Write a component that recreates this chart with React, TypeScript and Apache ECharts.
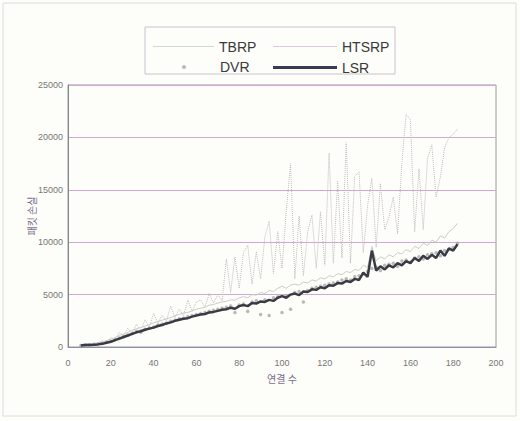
import React, { useEffect, useRef } from "react";
import * as echarts from "echarts";

const connections = [
  6, 8, 10, 12, 14, 16, 18, 20, 22, 24,
  26, 28, 30, 32, 34, 36, 38, 40, 42, 44,
  46, 48, 50, 52, 54, 56, 58, 60, 62, 64,
  66, 68, 70, 72, 74, 76, 78, 80, 82, 84,
  86, 88, 90, 92, 94, 96, 98, 100, 102, 104,
  106, 108, 110, 112, 114, 116, 118, 120, 122, 124,
  126, 128, 130, 132, 134, 136, 138, 140, 142, 144,
  146, 148, 150, 152, 154, 156, 158, 160, 162, 164,
  166, 168, 170, 172, 174, 176, 178, 180, 182,
];

const htsrp = [
  250, 300, 280, 350, 400, 600, 500, 900, 700, 1400,
  1000, 1800, 1300, 2200, 1600, 2600, 1900, 3200, 2300, 3000,
  2500, 3900, 2800, 3600, 3000, 4500, 3400, 4300, 4500, 3800,
  5100, 4200, 5000, 4400, 8400, 5200, 8600, 5600, 9000, 9700,
  6000, 9100, 6500, 10500, 12000, 7000, 11000, 7500, 13000, 17500,
  6500, 12500, 6800, 11000, 12600, 7500, 12900, 7800, 18500, 8000,
  15800, 8500, 19500, 8000, 16300, 16700, 9000, 13500, 16100, 9500,
  15600, 11200, 12400, 14300, 10800, 17500, 22200, 21700, 11000, 17000,
  11200, 18000, 19300, 14300, 16200, 19000, 20000, 20300, 20800,
];

const lsr = [
  150, 180, 200, 220, 250, 300, 400, 500, 650, 800,
  950, 1100, 1250, 1400, 1500, 1650, 1750, 1850, 2000, 2100,
  2250, 2350, 2500, 2600, 2700, 2750, 2900, 3000, 3100, 3150,
  3300, 3350, 3450, 3550, 3600, 3750, 3650, 3900, 4000, 3900,
  4200, 4150, 4350, 4300, 4500, 4400, 4700, 4850, 4700, 5000,
  5100, 4950, 5300, 5250, 5500, 5450, 5700, 5600, 5900, 5850,
  6100, 6050, 6300, 6200, 6500, 6400, 7100, 6700, 9200, 7300,
  7700, 7400, 7800, 7600, 8000, 7800, 8200, 8000, 8500, 8200,
  8700, 8400, 8800, 8500, 9200, 8700, 9400, 9200, 9800,
];

const tbrp = [
  200, 250, 300, 300, 350, 450, 600, 750, 900, 1100,
  1250, 1400, 1600, 1750, 1850, 2000, 2150, 2300, 2450, 2550,
  2700, 2800, 3000, 3100, 3250, 3300, 3450, 3600, 3700, 3800,
  4000, 4050, 4200, 4300, 4350, 4500, 4450, 4700, 4800, 4700,
  5000, 4950, 5200, 5100, 5400, 5300, 5600, 5800, 5600, 5900,
  6000, 5900, 6200, 6100, 6400, 6300, 6600, 6500, 6800, 6700,
  7000, 6900, 7200, 7100, 7400, 7300, 7800, 7600, 9600, 8200,
  8600, 8400, 8800, 8600, 9000, 8900, 9300, 9100, 9600, 9400,
  9900, 9700, 10200, 10000, 10600, 10400, 11000, 11300, 11800,
];

const dvr = [
  150, 200, 220, 250, 300, 350, 450, 550, 700, 850,
  1000, 1150, 1300, 1500, 1400, 1700, 1800, 1900, 2100, 2200,
  2300, 2450, 2550, 2700, 2750, 2900, 3000, 3100, 3200, 3300,
  3400, 3500, 3600, 3700, 3800, 3900, 3300, 4000, 4100, 3400,
  4300, 4400, 3100, 4500, 3000, 4700, 4800, 3300, 4900, 3600,
  5200, 5300, 4300, 5400, 5600, 5700, 5800, 5900, 6000, 6100,
  6200, 6400, 6500, 6400, 6700, 6800, 7000, 7200, 7500, 7600,
  7300, 7800, 7900, 8000, 7700, 8200, 8300, 8100, 8500, 8600,
  8400, 8800, 8900, 9000, 8700, 9200, 9300, 9500, 9900,
];

const pairs = (vals: number[]) => vals.map((v, i) => [connections[i], v]);

const FONT = "Liberation Sans, Arial, sans-serif";

export default function App() {
  const ref = useRef<HTMLDivElement>(null);
  useEffect(() => {
    if (!ref.current) return;
    const chart = echarts.init(ref.current, null, { renderer: "svg" });
    const legendText = { fontFamily: FONT, fontSize: 14, color: "#3a3a3a" };
    const legendBase = { padding: 0, itemGap: 5, textStyle: legendText };
    chart.setOption({
      animation: false,
      backgroundColor: "#fdfdf9",
      graphic: [
        {
          type: "rect",
          shape: { x: 3, y: 3, width: 513, height: 413 },
          style: { fill: "none", stroke: "#dcdcdc", lineWidth: 1 },
          silent: true,
        },
        {
          type: "rect",
          shape: { x: 145, y: 27, width: 250, height: 47 },
          style: { fill: "none", stroke: "#c9c2d2", lineWidth: 1 },
          silent: true,
        },
      ],
      legend: [
        {
          ...legendBase,
          data: [{ name: "TBRP", icon: "rect" }],
          left: 153,
          top: 39.5,
          itemWidth: 61,
          itemHeight: 1,
        },
        {
          ...legendBase,
          data: [{ name: "HTSRP", icon: "rect" }],
          left: 273,
          top: 39.5,
          itemWidth: 64,
          itemHeight: 1,
        },
        {
          ...legendBase,
          data: [{ name: "DVR", icon: "circle" }],
          left: 182,
          top: 60,
          itemWidth: 4,
          itemHeight: 4,
          textStyle: { ...legendText, padding: [0, 0, 0, 29] },
        },
        {
          ...legendBase,
          data: [{ name: "LSR", icon: "rect" }],
          left: 273,
          top: 60.5,
          itemWidth: 64,
          itemHeight: 3,
        },
      ],
      grid: {
        left: 68,
        right: 24,
        top: 85,
        bottom: 74,
        show: true,
        borderColor: "#9a9a9a",
        borderWidth: 1,
      },
      xAxis: {
        type: "value",
        min: 0,
        max: 200,
        interval: 20,
        name: "연결 수",
        nameLocation: "middle",
        nameGap: 26,
        nameTextStyle: { fontFamily: "Noto Sans CJK KR", fontSize: 10, color: "#7a6f8f" },
        axisLine: { show: true, lineStyle: { color: "#8c90a8", width: 1 } },
        axisTick: { show: false },
        splitLine: { show: false },
        axisLabel: { fontFamily: FONT, fontSize: 9, color: "#777", margin: 11 },
      },
      yAxis: {
        type: "value",
        min: 0,
        max: 25000,
        interval: 5000,
        name: "패킷 손실",
        nameLocation: "middle",
        nameGap: 32,
        nameMoveOverlap: false,
        nameRotate: 90,
        nameTextStyle: { fontFamily: "Noto Sans CJK KR", fontSize: 10, color: "#7a6f8f" },
        axisLine: { show: true, lineStyle: { color: "#888", width: 1 } },
        axisTick: { show: false },
        splitLine: { show: true, lineStyle: { color: "#d4a6d6", width: 1 } },
        axisLabel: {
          fontFamily: FONT,
          fontSize: 9,
          color: "#777",
          margin: 5,
          formatter: (v: number) => String(v),
        },
      },
      series: [
        {
          name: "HTSRP",
          type: "line",
          data: pairs(htsrp),
          symbol: "none",
          lineStyle: { color: "#c2bcc2", width: 1, type: "dotted" },
          itemStyle: { color: "#dccadc" },
          z: 1,
        },
        {
          name: "TBRP",
          type: "line",
          data: pairs(tbrp),
          symbol: "none",
          lineStyle: { color: "#cacdc6", width: 1 },
          itemStyle: { color: "#cddccd" },
          z: 2,
        },
        {
          name: "DVR",
          type: "scatter",
          data: pairs(dvr),
          symbol: "circle",
          symbolSize: 3.5,
          itemStyle: { color: "#a8a8a8" },
          z: 3,
        },
        {
          name: "LSR",
          type: "line",
          data: pairs(lsr),
          symbol: "none",
          lineStyle: { color: "#3a3a44", width: 2.5 },
          itemStyle: { color: "#3a3a50" },
          z: 4,
        },
      ],
    });
    return () => chart.dispose();
  }, []);
  return (
    <div
      ref={ref}
      style={{ position: "fixed", left: 0, top: 0, width: 520, height: 421 }}
    />
  );
}
